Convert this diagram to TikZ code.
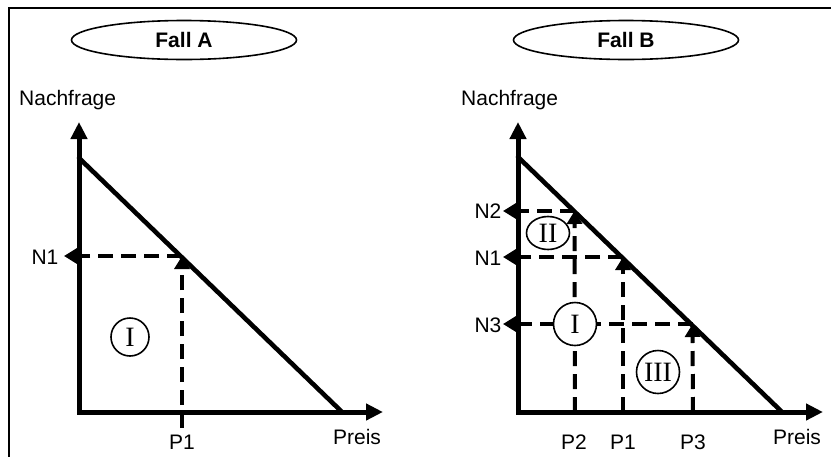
\documentclass[tikz,border=0pt]{standalone}
\usepackage{fontspec}
\setmainfont{Liberation Sans}
\newfontfamily\romfont{Liberation Serif}
\usetikzlibrary{arrows.meta,shapes.geometric}
\tikzset{
  lbl/.style={inner sep=0pt, font=\fontsize{21}{21}\selectfont},
  fallbox/.style={ellipse, draw, line width=1.6pt, minimum width=225pt, minimum height=39pt, inner sep=0pt, font=\fontsize{21}{21}\selectfont\bfseries},
  axis/.style={line width=5pt, -{Triangle[length=17pt,width=16pt]}},
  demand/.style={line width=4.6pt, line cap=round},
  guide/.style={line width=4pt, dash pattern=on 15pt off 8pt, -{Triangle[length=13pt,width=15pt]}},
  region/.style={circle, draw, fill=white, line width=1.6pt, minimum size=40pt, inner sep=0pt, font=\fontsize{28}{28}\romfont},
}
\begin{document}
\begin{tikzpicture}[x=1pt,y=-1pt]
\useasboundingbox (0,0) rectangle (831,456);
% frame
\draw[line width=2.2pt] (9,470) -- (9,8) -- (840,8);

% ---------------- Fall A ----------------
\node[fallbox] (fa) at (184,40) {Fall A};
\node[lbl, anchor=west] (nachA) at (19,100) {Nachfrage};
\coordinate (ytA) at (79,122);
\coordinate (xtA) at (383,412);
\coordinate (dsA) at (79,158);
\coordinate (deA) at (342,412);
\draw[axis] (79,414) -- (ytA);
\draw[axis] (77,412) -- (xtA);
\draw[demand] (dsA) -- (deA);
\coordinate (pA1) at (182,256);
\coordinate (nA1) at (64,256);
\coordinate (bA1) at (182,428);
\draw[guide] (pA1) -- (nA1);
\draw[guide] (bA1) -- (pA1);
\node[lbl] (lN1A) at (45,257) {N1};
\node[lbl] (lP1A) at (182,442) {P1};
\node[lbl] (preisA) at (357,437) {Preis};
\node[region, minimum size=38pt] (rIA) at (130,337) {I};

% ---------------- Fall B ----------------
\node[fallbox] (fb) at (626,40) {Fall B};
\node[lbl, anchor=west] (nachB) at (461,100) {Nachfrage};
\coordinate (ytB) at (518,122);
\coordinate (xtB) at (823,412);
\coordinate (dsB) at (518,157);
\coordinate (deB) at (782,412);
\draw[axis] (518,414) -- (ytB);
\draw[axis] (516,412) -- (xtB);
\draw[demand] (dsB) -- (deB);
% points on demand line
\coordinate (q2) at (574.5,211);
\coordinate (q1) at (623,257);
\coordinate (q3) at (692.5,324);
% axis ends
\coordinate (n2) at (503,211);
\coordinate (n1) at (503,257);
\coordinate (n3) at (503,324);
\coordinate (b2) at (575,412);
\coordinate (b1) at (623,412);
\coordinate (b3) at (693,412);
\draw[guide] (q2) -- (n2);
\draw[guide] (q1) -- (n1);
\draw[guide] (q3) -- (n3);
\draw[guide] (b2) -- (q2);
\draw[guide] (b1) -- (q1);
\draw[guide] (b3) -- (q3);
\node[lbl] (lN2) at (488,211) {N2};
\node[lbl] (lN1) at (488,258) {N1};
\node[lbl] (lN3) at (488,325) {N3};
\node[lbl] (lP2) at (574,442) {P2};
\node[lbl] (lP1) at (623,442) {P1};
\node[lbl] (lP3) at (693,442) {P3};
\node[lbl] (preisB) at (797,437) {Preis};
\node[region, ellipse, minimum width=43pt, minimum height=33pt] (rII) at (548,233) {II};
\node[region, minimum size=43pt] (rIB) at (575,324) {I};
\node[region, minimum size=43pt] (rIII) at (658,372) {III};
\end{tikzpicture}
\end{document}
